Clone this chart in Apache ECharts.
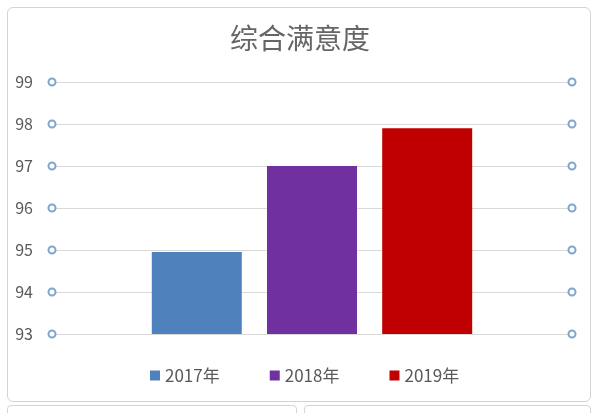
<!DOCTYPE html>
<html><head><meta charset="utf-8">
<script src="https://cdn.jsdelivr.net/npm/echarts@6/dist/echarts.min.js"></script>
<style>
html,body{margin:0;padding:0;background:#fff;overflow:hidden;}
#frame{position:absolute;left:7px;top:7px;width:582px;height:393px;border:1px solid #d4d4d4;border-radius:6px;}
.below{position:absolute;top:405px;height:20px;border:1px solid #d4d4d4;border-radius:4px;}
#c{position:absolute;left:0;top:0;width:600px;height:413px;}
</style></head>
<body>
<div id="frame"></div>
<div class="below" style="left:7px;width:288px;"></div>
<div class="below" style="left:304px;width:285px;"></div>
<div id="c"></div>
<script>
const title = '综合满意度';
const seriesNames = ['2017年', '2018年', '2019年'];
const values = [94.95, 97.0, 97.9];
const colors = ['#4f81bd', '#7030a0', '#c00000'];
const yTicks = [93, 94, 95, 96, 97, 98, 99];

const chart = echarts.init(document.getElementById('c'));
const font = '"Noto Sans CJK SC", "Noto Sans", sans-serif';
const handleData = [];
yTicks.forEach(v => { handleData.push([0, v]); handleData.push([1, v]); });

const series = seriesNames.map((n, i) => ({
  name: n, type: 'bar', data: [values[i]],
  barWidth: 90, barGap: '28%',
  itemStyle: { color: colors[i] },
  xAxisIndex: 0
}));
series.push({
  name: 'handles', type: 'scatter', xAxisIndex: 1, data: handleData,
  symbol: 'emptyCircle', symbolSize: 7, clip: false, silent: true,
  itemStyle: { color: '#5f90c4', borderWidth: 1.8 }, z: 5
});

chart.setOption({
  animation: false,
  textStyle: { fontFamily: font },
  title: { text: title, left: 'center', top: 19,
    textStyle: { fontSize: 28, fontWeight: 'normal', color: '#666666', fontFamily: font } },
  legend: { data: seriesNames, bottom: 24, left: 145, itemWidth: 10, itemHeight: 10, itemGap: 50,
    icon: 'rect', textStyle: { fontSize: 17, color: '#595959', fontFamily: font } },
  grid: { left: 52, right: 28, top: 82, bottom: 79 },
  xAxis: [
    { type: 'category', data: [title], axisLine: { show: false }, axisTick: { show: false }, axisLabel: { show: false } },
    { type: 'value', min: 0, max: 1, show: false }
  ],
  yAxis: { type: 'value', min: 93, max: 99, interval: 1,
    axisLine: { show: false }, axisTick: { show: false },
    axisLabel: { margin: 19, fontSize: 16, color: '#595959', fontFamily: font },
    splitLine: { lineStyle: { color: '#d9d9d9', width: 1 } } },
  series: series
});
</script>
</body></html>
